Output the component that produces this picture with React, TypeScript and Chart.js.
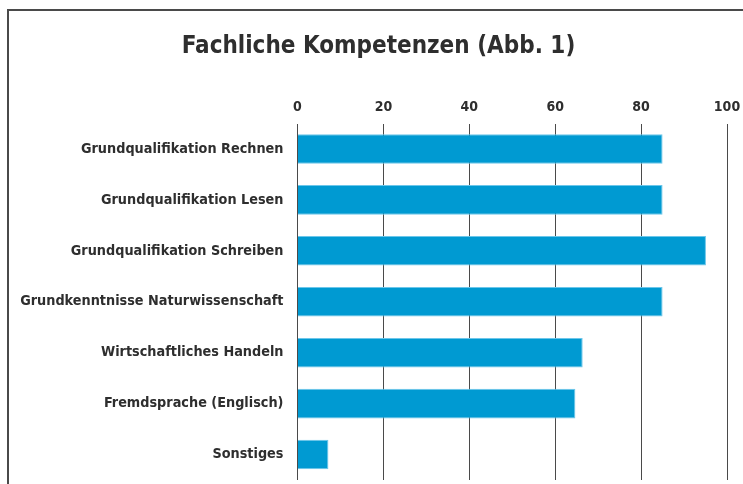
import React, { useEffect, useRef } from "react";
import { Chart, registerables } from "chart.js";

Chart.register(...registerables);

const TITLE = "Fachliche Kompetenzen (Abb. 1)";
const categories = [
  "Grundqualifikation Rechnen",
  "Grundqualifikation Lesen",
  "Grundqualifikation Schreiben",
  "Grundkenntnisse Naturwissenschaft",
  "Wirtschaftliches Handeln",
  "Fremdsprache (Englisch)",
  "Sonstiges",
];
const values = [85, 85, 95.1, 85, 66.4, 64.7, 7.2];
const xTicks = [0, 20, 40, 60, 80, 100];

const FONT = "'Liberation Sans Narrow', 'DejaVu Sans Condensed', sans-serif";
const TEXT = "#2e2e2e";

const labelClipFix = {
  id: "labelClipFix",
  afterLayout(chart: any) {
    chart.scales.y.left = 0;
  },
};

export default function App() {
  const ref = useRef<HTMLCanvasElement | null>(null);

  useEffect(() => {
    if (!ref.current) return;
    const chart = new Chart(ref.current, {
      type: "bar",
      data: {
        labels: categories,
        datasets: [
          {
            data: values,
            backgroundColor: "#009ad2",
            borderColor: "#6cc6ea",
            borderWidth: 1,
            barPercentage: 0.58,
            categoryPercentage: 1,
          },
        ],
      },
      plugins: [labelClipFix],
      options: {
        indexAxis: "y",
        animation: false,
        responsive: false,
        layout: { padding: { left: 30, right: 16, top: 0, bottom: 4 } },
        plugins: {
          legend: { display: false },
          tooltip: { enabled: false },
          title: {
            display: true,
            text: TITLE,
            color: TEXT,
            font: { family: FONT, size: 24, weight: "bold", lineHeight: 1.2 },
            padding: { top: 32, bottom: 0 },
          },
        },
        scales: {
          x: {
            position: "top",
            min: 0,
            max: 100,
            afterBuildTicks: (s: any) => {
              s.ticks = xTicks.map((v) => ({ value: v }));
            },
            afterFit: (s: any) => {
              s.height = 123.5 - 60.8;
              s.paddingLeft = 0;
              s.paddingRight = 0;
            },
            ticks: {
              color: TEXT,
              font: { family: FONT, size: 14, weight: "bold" },
              padding: 8,
            },
            grid: { color: "#4a4a4a", lineWidth: 1, drawTicks: false },
            border: { display: false },
          },
          y: {
            afterFit: (s: any) => {
              s.width = 267.5;
              s.paddingTop = 0;
              s.paddingBottom = 0;
            },
            ticks: {
              color: TEXT,
              font: { family: FONT, size: 14.3, weight: "bold" },
              padding: 14,
            },
            grid: { display: false, drawTicks: false },
            border: { display: false },
          },
        },
      },
    });
    return () => chart.destroy();
  }, []);

  return (
    <div style={{ position: "fixed", left: 0, top: 0, width: 743, height: 484, background: "#fff", overflow: "hidden" }}>
      <div
        style={{
          position: "absolute",
          left: 7,
          top: 9,
          width: 760,
          height: 500,
          borderTop: "2px solid #4a4a4a",
          borderLeft: "2px solid #4a4a4a",
          boxSizing: "border-box",
        }}
      />
      <canvas ref={ref} width={743} height={484} style={{ position: "absolute", left: 0, top: 0 }} />
    </div>
  );
}
